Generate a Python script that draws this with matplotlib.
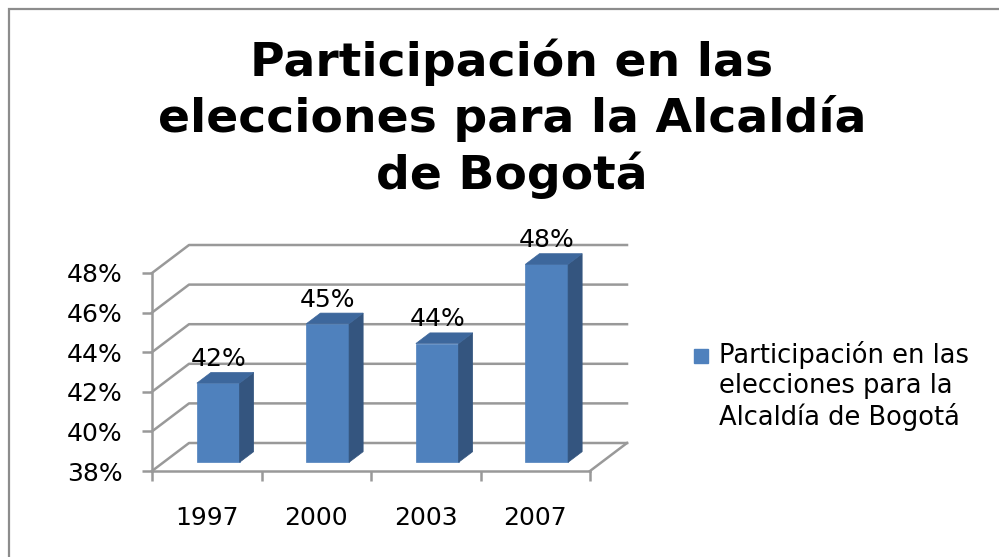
import matplotlib
matplotlib.use("Agg")
import matplotlib.pyplot as plt
from matplotlib.patches import Polygon, Rectangle

# Data
years = ["1997", "2000", "2003", "2007"]
participacion = [42, 45, 44, 48]
y_ticks = [38, 40, 42, 44, 46, 48]
serie = "Participación en las\nelecciones para la\nAlcaldía de Bogotá"
titulo = "Participación en las\nelecciones para la Alcaldía\nde Bogotá"

# 3D look: depth of the box and of each bar, in data units
DX, DY = 0.338, 1.414
BAR_W = 0.39
F0, F1 = 0.31, 0.69
FRONT, SIDE, TOP = "#4F81BD", "#34557F", "#3D679C"
GRID = "#999999"
FS = 18

plt.rcParams["font.family"] = "DejaVu Sans"
fig = plt.figure(figsize=(9.99, 5.57), dpi=100)

# outer frame
fig.patches.append(Rectangle((9 / 999, -0.1), 1.2, (557 - 9) / 557 + 0.1,
                             transform=fig.transFigure, fill=False,
                             edgecolor="#8C8C8C", linewidth=1.6))

fig.text(0.5125, 1 - 38 / 557, titulo, ha="center", va="top", fontsize=34,
         fontweight="bold", linespacing=1.25)

ax = fig.add_axes([152 / 999, (557 - 471) / 557, 438 / 999, 198 / 557])
ax.set_xlim(0, 4)
ax.set_ylim(38, 48)
ax.patch.set_visible(False)

# back wall gridlines plus the diagonal on the side wall
for v in y_ticks:
    ax.plot([0, DX, 4 + DX], [v, v + DY, v + DY], color=GRID, lw=1.8,
            clip_on=False, zorder=1)
# right edge of the floor
ax.plot([4, 4 + DX], [38, 38 + DY], color=GRID, lw=1.8, clip_on=False, zorder=1)

for spine in ["top", "right"]:
    ax.spines[spine].set_visible(False)
for spine in ["left", "bottom"]:
    ax.spines[spine].set_color(GRID)
    ax.spines[spine].set_linewidth(1.8)

ax.set_yticks(y_ticks)
ax.set_yticklabels([f"{t}%" for t in y_ticks])
ax.tick_params(axis="y", direction="out", length=7, width=1.8, color=GRID,
               labelsize=FS, pad=14)
ax.set_xticks(range(5))
ax.set_xticklabels([])
ax.tick_params(axis="x", which="major", direction="out", length=7, width=1.8,
               color=GRID)
ax.set_xticks([i + 0.5 for i in range(4)], minor=True)
ax.set_xticklabels(years, minor=True)
ax.tick_params(axis="x", which="minor", length=0, labelsize=FS, pad=25)

for i, v in enumerate(participacion):
    xl = i + 0.5 - BAR_W / 2
    xr = i + 0.5 + BAR_W / 2
    b0, b1 = 38 + F0 * DY, 38 + F1 * DY
    front = Polygon([(xl + F0 * DX, b0), (xr + F0 * DX, b0),
                     (xr + F0 * DX, v + F0 * DY), (xl + F0 * DX, v + F0 * DY)],
                    closed=True, facecolor=FRONT, edgecolor=FRONT, lw=0.5,
                    clip_on=False, zorder=3)
    side = Polygon([(xr + F0 * DX, b0), (xr + F1 * DX, b1),
                    (xr + F1 * DX, v + F1 * DY), (xr + F0 * DX, v + F0 * DY)],
                   closed=True, facecolor=SIDE, edgecolor=SIDE, lw=0.5,
                   clip_on=False, zorder=3)
    top = Polygon([(xl + F0 * DX, v + F0 * DY), (xr + F0 * DX, v + F0 * DY),
                   (xr + F1 * DX, v + F1 * DY), (xl + F1 * DX, v + F1 * DY)],
                  closed=True, facecolor=TOP, edgecolor=TOP, lw=0.5,
                  clip_on=False, zorder=3)
    for p in (front, side, top):
        ax.add_patch(p)
    ax.annotate(f"{v}%", (i + 0.5 + F0 * DX, v + F1 * DY), xytext=(0, 1),
                textcoords="offset points", ha="center", va="bottom",
                fontsize=FS, zorder=4, annotation_clip=False)

# legend: square key next to the first line of the label
fig.patches.append(Rectangle((694 / 999, 1 - 363 / 557), 14 / 999, 14 / 557,
                             transform=fig.transFigure, facecolor=FRONT,
                             edgecolor=FRONT))
fig.text(719 / 999, 1 - 341 / 557, serie, ha="left", va="top", fontsize=18.5,
         linespacing=1.2)

fig.savefig("out.png", dpi=100)
